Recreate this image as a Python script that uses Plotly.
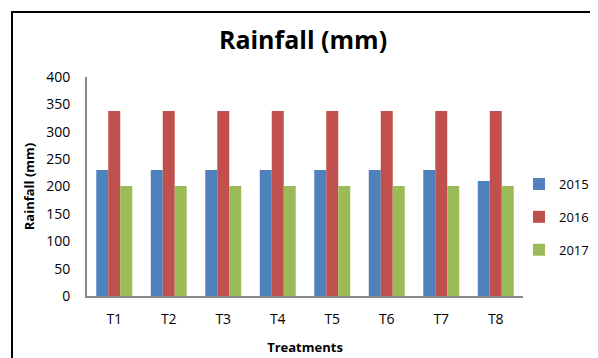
import plotly.graph_objects as go

categories = ["T1", "T2", "T3", "T4", "T5", "T6", "T7", "T8"]
rain_2015 = [230, 230, 230, 230, 230, 230, 230, 210]
rain_2016 = [338, 338, 338, 338, 338, 338, 338, 338]
rain_2017 = [201, 201, 201, 201, 201, 201, 201, 201]
series_names = ["2015", "2016", "2017"]
colors = ["#4F81BD", "#C0504D", "#9BBB59"]

FONT = "Open Sans"
OFF = 8  # page body margin
fig = go.Figure()
for name, vals, col in zip(series_names, [rain_2015, rain_2016, rain_2017], colors):
    fig.add_trace(go.Bar(x=categories, y=vals, name=name, marker_color=col,
                         marker_line_width=0, legendgroup=name))

W, H = 598 - OFF, 358 - OFF
L, T = 87 - OFF, 77 - OFF
R = W - (523 - OFF)
B = H - (296 - OFF)
pw, ph = W - L - R, H - T - B

fig.update_layout(
    width=W, height=H,
    margin=dict(l=L, r=R, t=T, b=B, autoexpand=False),
    paper_bgcolor="white", plot_bgcolor="white",
    barmode="group", bargap=0.34, bargroupgap=0,
    font=dict(family=FONT, color="#000000", size=14),
    title=dict(text="<b>Rainfall (mm)</b>", x=0.5, xanchor="center",
               y=1 - (40 - OFF) / H, yanchor="middle", font=dict(size=25, family=FONT)),
    xaxis=dict(showgrid=False, showline=True, linecolor="#898989", linewidth=2,
               ticks="", tickfont=dict(size=14), ticklabelstandoff=9,
               title=dict(text="<b>Treatments</b>", font=dict(size=13), standoff=16)),
    yaxis=dict(range=[0, 400], dtick=50, showgrid=False, showline=True,
               linecolor="#898989", linewidth=2, ticks="", zeroline=False,
               tickfont=dict(size=14), ticklabelstandoff=12,
               title=dict(text="<b>Rainfall (mm)</b>", font=dict(size=13), standoff=9)),
    legend=dict(xref="container", x=(519 - OFF) / W, xanchor="left",
                yref="container", y=1 - (217 - OFF) / H, yanchor="middle",
                traceorder="grouped", tracegroupgap=13, font=dict(size=13),
                itemwidth=30, bgcolor="rgba(0,0,0,0)"),
    showlegend=True,
)

fig.add_shape(type="rect", xref="paper", yref="paper",
              x0=(12 - 87) / pw, x1=(W + 30 - L) / pw,
              y0=-(H + 30 - (296 - OFF)) / ph, y1=(296 - 12) / ph,
              line=dict(color="black", width=2), fillcolor="rgba(0,0,0,0)", layer="above")

fig.write_html("out.html")
